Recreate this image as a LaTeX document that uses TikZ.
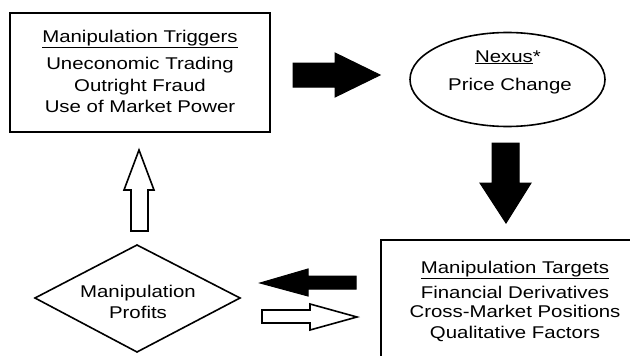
\documentclass[tikz,border=0pt]{standalone}
\usepackage{fontspec}
\setmainfont{Liberation Sans}[FakeStretch=1.2]
\begin{document}
\begin{tikzpicture}[x=1pt,y=-1pt,
  boxline/.style={line width=2pt},
  txt/.style={anchor=base, inner sep=0pt, font=\fontsize{17}{21.5}\selectfont, text=black},
  blockfill/.style={fill=black, draw=black, line width=1pt, line join=miter},
  blockhollow/.style={fill=white, draw=black, line width=1.6pt, line join=miter}]
\useasboundingbox (0,0) rectangle (630,356);
\clip (0,0) rectangle (630,356);
\fill[white] (0,0) rectangle (630,356);

% shapes
\draw[boxline] (10,13) rectangle (270,132);
\draw[line width=1.6pt] (507.5,79.5) ellipse [x radius=97.5, y radius=47];
\draw[boxline] (381,240) rectangle (650,380);
\draw[line width=1.6pt, line join=miter] (35,298) -- (137,245) -- (240,298) -- (137,352) -- cycle;

% texts
\node[txt] (trig1) at (140,42) {\underline{Manipulation Triggers}};
\node[txt] (trig2) at (140,69) {Uneconomic Trading};
\node[txt] (trig3) at (140,91) {Outright Fraud};
\node[txt] (trig4) at (140,112) {Use of Market Power};
\node[txt] (nex1) at (508,62) {\underline{Nexus}*};
\node[txt] (nex2) at (510,90) {Price Change};
\node[txt] (targ1) at (515,273) {\underline{Manipulation Targets}};
\node[txt] (targ2) at (515,298) {Financial Derivatives};
\node[txt] (targ3) at (515,317) {Cross-Market Positions};
\node[txt] (targ4) at (515,338) {Qualitative Factors};
\node[txt] (prof1) at (138,297) {Manipulation};
\node[txt] (prof2) at (138,318) {Profits};

% block arrows
\draw[blockfill] (293,63) -- (335,63) -- (335,53) -- (380,75) -- (335,97) -- (335,87) -- (293,87) -- cycle;
\draw[blockfill] (492,143) -- (519,143) -- (519,183) -- (531,183) -- (506,223) -- (480,183) -- (492,183) -- cycle;
\draw[blockhollow] (131,231) -- (131,190) -- (124,190) -- (139,150) -- (154,190) -- (148,190) -- (148,231) -- cycle;
\draw[blockfill] (356,276) -- (308,276) -- (308,269) -- (260,283) -- (308,296) -- (308,289) -- (356,289) -- cycle;
\draw[blockhollow] (262,310) -- (310,310) -- (310,304) -- (357,317) -- (310,330) -- (310,323) -- (262,323) -- cycle;
\end{tikzpicture}
\end{document}
